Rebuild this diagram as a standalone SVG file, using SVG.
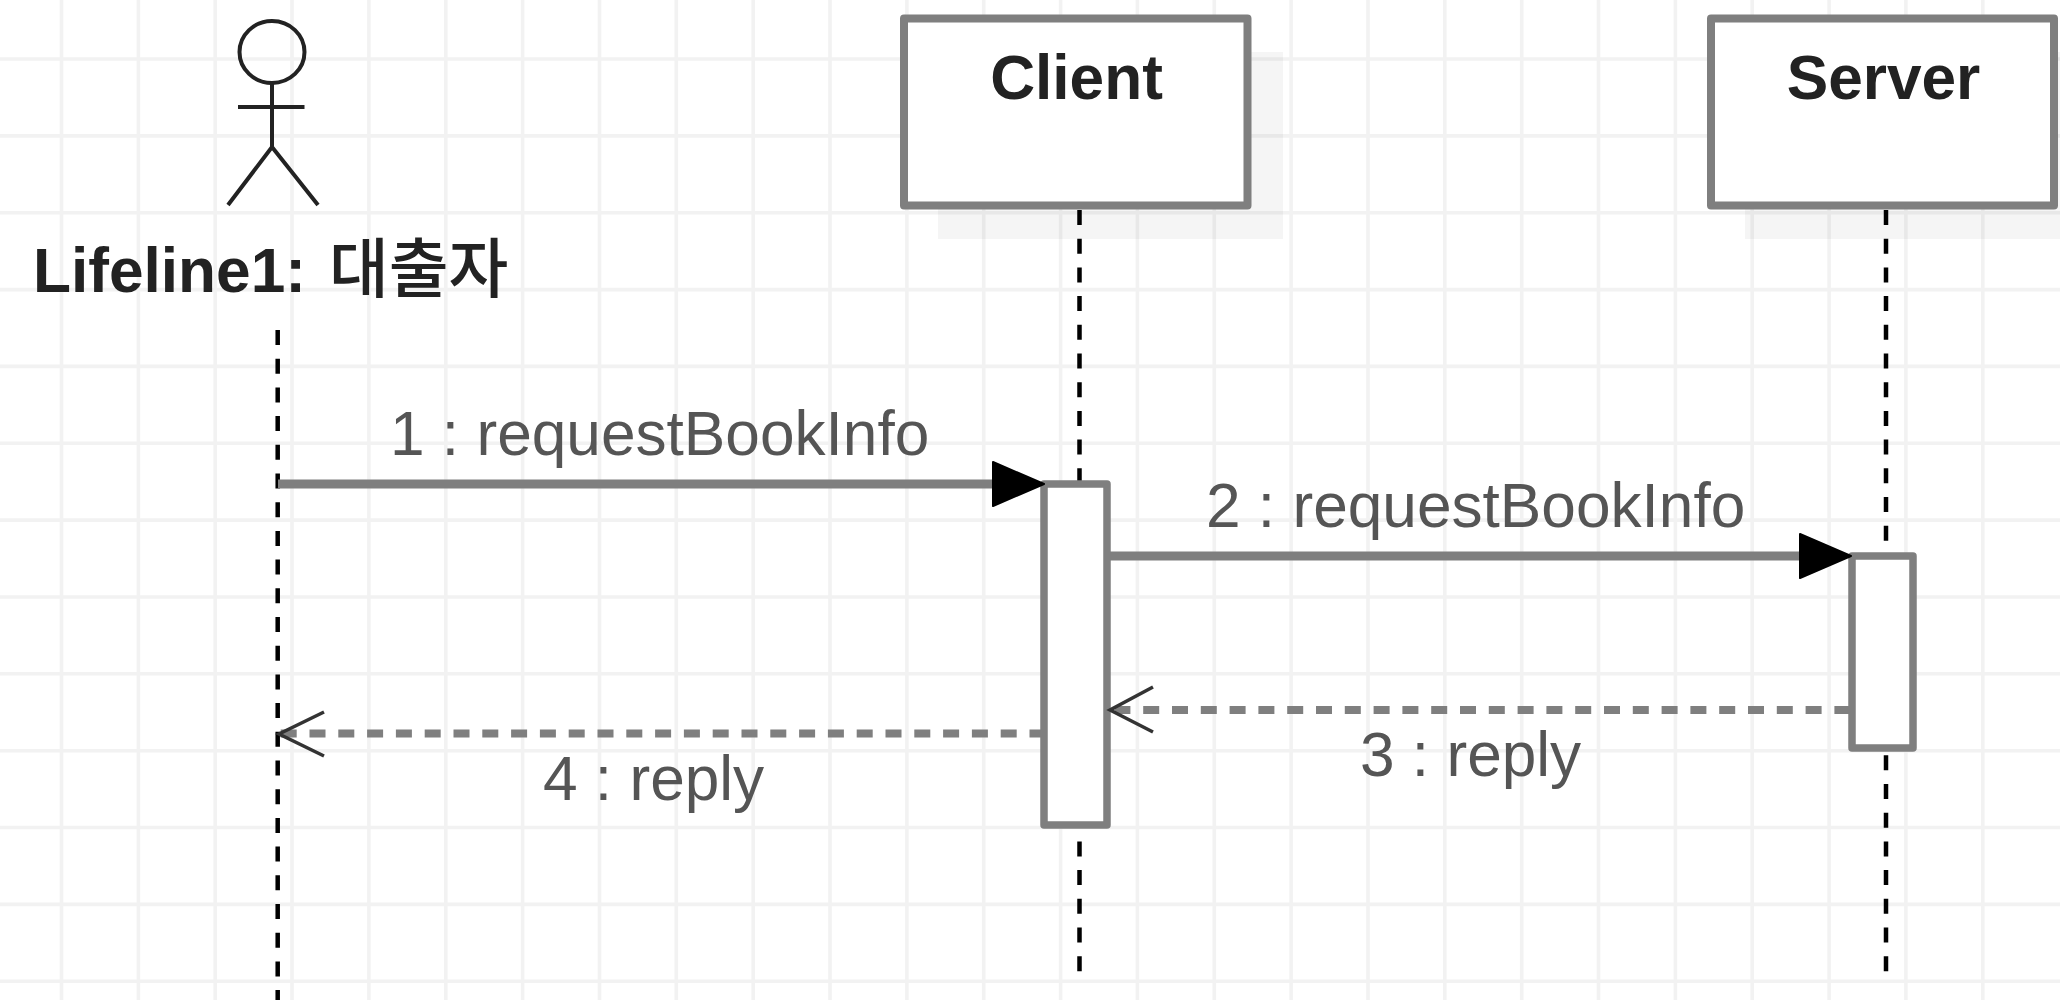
<svg xmlns="http://www.w3.org/2000/svg" width="2060" height="1000" viewBox="0 0 2060 1000">
<style>
.grid line{stroke:#f2f2f2;stroke-width:3.6}
.shadow{fill:#000;fill-opacity:.04}
.box{fill:#fff;stroke:#7f7f7f;stroke-width:8;stroke-linejoin:round}
.act{fill:#fff;stroke:#7f7f7f;stroke-width:7.5;stroke-linejoin:round}
.life{stroke:#000;stroke-width:4.5;stroke-dasharray:15 13.7;fill:none}
.msg{stroke:#7f7f7f;stroke-width:9;fill:none}
.ret{stroke:#7f7f7f;stroke-width:8;stroke-dasharray:16 12.8;fill:none}
.open{stroke:#333;stroke-width:3.5;fill:none}
.head{fill:#000;stroke:#000;stroke-width:2;stroke-linejoin:round}
.t{font-family:"Liberation Sans","Noto Sans CJK KR",sans-serif;font-size:62.2px}
.b{font-weight:bold;fill:#222}
.c{text-anchor:middle}
.k{font-family:"Noto Sans CJK KR",sans-serif;font-size:65px;font-weight:500}
.m{fill:#555}
.fig{fill:none;stroke:#222;stroke-width:4}
</style>
<rect width="2060" height="1000" fill="#fff"/>
<g class="grid" id="grid">
<line x1="61.5" y1="0" x2="61.5" y2="1000"/><line x1="138.4" y1="0" x2="138.4" y2="1000"/><line x1="215.2" y1="0" x2="215.2" y2="1000"/><line x1="292" y1="0" x2="292" y2="1000"/><line x1="368.9" y1="0" x2="368.9" y2="1000"/><line x1="445.8" y1="0" x2="445.8" y2="1000"/><line x1="522.6" y1="0" x2="522.6" y2="1000"/><line x1="599.5" y1="0" x2="599.5" y2="1000"/><line x1="676.3" y1="0" x2="676.3" y2="1000"/><line x1="753.2" y1="0" x2="753.2" y2="1000"/><line x1="830" y1="0" x2="830" y2="1000"/><line x1="906.9" y1="0" x2="906.9" y2="1000"/><line x1="983.7" y1="0" x2="983.7" y2="1000"/><line x1="1060.6" y1="0" x2="1060.6" y2="1000"/><line x1="1137.4" y1="0" x2="1137.4" y2="1000"/><line x1="1214.3" y1="0" x2="1214.3" y2="1000"/><line x1="1291.1" y1="0" x2="1291.1" y2="1000"/><line x1="1368" y1="0" x2="1368" y2="1000"/><line x1="1444.8" y1="0" x2="1444.8" y2="1000"/><line x1="1521.7" y1="0" x2="1521.7" y2="1000"/><line x1="1598.5" y1="0" x2="1598.5" y2="1000"/><line x1="1675.4" y1="0" x2="1675.4" y2="1000"/><line x1="1752.2" y1="0" x2="1752.2" y2="1000"/><line x1="1829.1" y1="0" x2="1829.1" y2="1000"/><line x1="1905.9" y1="0" x2="1905.9" y2="1000"/><line x1="1982.8" y1="0" x2="1982.8" y2="1000"/>
<line x1="0" y1="59" x2="2060" y2="59"/><line x1="0" y1="135.9" x2="2060" y2="135.9"/><line x1="0" y1="212.7" x2="2060" y2="212.7"/><line x1="0" y1="289.6" x2="2060" y2="289.6"/><line x1="0" y1="366.4" x2="2060" y2="366.4"/><line x1="0" y1="443.3" x2="2060" y2="443.3"/><line x1="0" y1="520.1" x2="2060" y2="520.1"/><line x1="0" y1="597" x2="2060" y2="597"/><line x1="0" y1="673.8" x2="2060" y2="673.8"/><line x1="0" y1="750.7" x2="2060" y2="750.7"/><line x1="0" y1="827.5" x2="2060" y2="827.5"/><line x1="0" y1="904.4" x2="2060" y2="904.4"/><line x1="0" y1="981.2" x2="2060" y2="981.2"/>
</g>
<g id="actor">
<ellipse class="fig" cx="272" cy="52" rx="32.5" ry="31"/>
<path class="fig" d="M272 83V147M238 107H304.5M228 205L272 147L318 205"/>
<text class="t b" x="33" y="292">Lifeline1:<tspan class="k" x="329">대출자</tspan></text>
</g>
<g id="client">
<rect class="shadow" x="938" y="52" width="345" height="187"/>
<rect class="box" x="904" y="18.5" width="343.5" height="187"/>
<text class="t b c" x="1076.5" y="99">Client</text>
</g>
<g id="server">
<rect class="shadow" x="1745" y="52" width="315" height="187"/>
<rect class="box" x="1711" y="18.5" width="343" height="187"/>
<text class="t b c" x="1883.5" y="99">Server</text>
</g>
<g id="connectors">
<line class="life" x1="277.7" y1="330" x2="277.7" y2="1000"/>
<line class="life" x1="1079.5" y1="210" x2="1079.5" y2="974"/>
<line class="life" x1="1886" y1="210" x2="1886" y2="974"/>
</g>
<g id="activation-client"><rect class="act" x="1044" y="484" width="63" height="341"/></g>
<g id="activation-server"><rect class="act" x="1852" y="556" width="61" height="192"/></g>
<g id="messages">
<line class="msg" x1="278" y1="484" x2="1000" y2="484"/>
<path class="head" d="M993 462L1044 484L993 506Z"/>
<line class="msg" x1="1110" y1="556" x2="1805" y2="556"/>
<path class="head" d="M1800 534L1851 556L1800 578Z"/>
<line class="ret" x1="1114.4" y1="710" x2="1850" y2="710"/>
<path class="open" d="M1153 687L1110 710L1153 732"/>
<line class="ret" x1="280.7" y1="733.5" x2="1041" y2="733.5"/>
<path class="open" d="M324 712L279 734L324 756"/>
</g>
<g id="labels">
<text class="t m" x="390" y="455">1 : requestBookInfo</text>
<text class="t m" x="1206" y="527">2 : requestBookInfo</text>
<text class="t m" x="1360" y="776">3 : reply</text>
<text class="t m" x="543" y="800">4 : reply</text>
</g>
</svg>
